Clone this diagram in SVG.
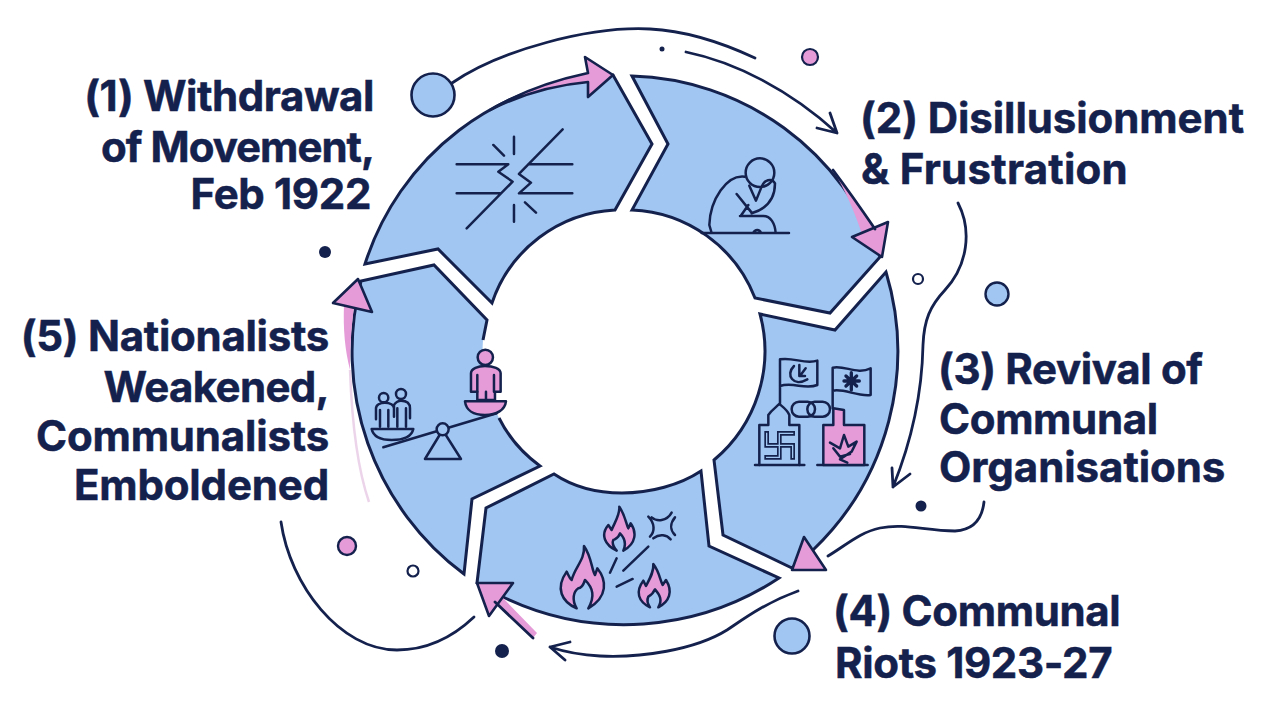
<svg xmlns="http://www.w3.org/2000/svg" width="1278" height="726" viewBox="0 0 1278 726">
<style>
.seg{fill:#a0c6f1;stroke:#14214d;stroke-width:3;stroke-linejoin:miter}
.ln{fill:none;stroke:#14214d;stroke-width:2.8;stroke-linecap:round;stroke-linejoin:round}
.pk{fill:#e49bd7;stroke:#14214d;stroke-width:2.6;stroke-linejoin:round}
.pf{fill:#e49bd7;stroke:none}
.ic{fill:none;stroke:#14214d;stroke-width:7.5;stroke-linecap:round;stroke-linejoin:round}
.icp{fill:#e49bd7;stroke:#14214d;stroke-width:7.5;stroke-linejoin:round;stroke-linecap:round}
.ici{fill:#a0c6f1;stroke:#14214d;stroke-width:7.5;stroke-linejoin:round;stroke-linecap:round}
.t{font-family:Inter,"Liberation Sans",sans-serif;font-weight:700;font-size:42px;letter-spacing:-.35px;fill:#14214d;stroke:#14214d;stroke-width:.5}
.e{text-anchor:end}
.dot{fill:#14214d}
</style>
<rect width="1278" height="726" fill="#ffffff"/>
<g id="connectors">
<path class="ln" d="M452 83C500 50 590 26 650 29C690 31 725 44 755 58"/>
<path class="ln" d="M686 52C735 62 790 90 837 133M817 128L837 133L830 113"/>
<path class="ln" d="M958 203C972 230 968 265 945 290C930 306 924 320 923 345C922 395 910 445 893 487M892 468L893 487L910 474"/>
<path class="ln" d="M984 502C982 520 972 530 955 531C925 531 905 523 880 528C860 532 845 546 828 556"/>
<path class="ln" d="M798 591C765 603 745 618 727 630C695 650 640 658 600 656C580 655 565 652 550 647M570 642L550 647L565 660"/>
<path class="ln" d="M281 522C290 585 340 650 397 650C430 650 455 635 474 617"/>
<path d="M350 370C352 425 358 470 369 502" fill="none" stroke="#ecd5ea" stroke-width="2.5"/>
</g>
<g id="node1">
<path class="seg" d="M365 264A271 271 0 0 1 613 75L652 144L615 210A137 137 0 0 0 492 303L438 249Z"/>
<path class="pk" d="M490 110C520 92 555 80 588 73L585 57L613 75L588 97L588 82C555 85 520 95 490 110Z"/>
<g transform="translate(340 40) scale(.3333)"><path class="ic" d="M350 373H505L475 395L518 425L380 565M350 460H480M697 373H565M668 268L565 373L537 402L573 428L537 460H697M522 290V342M460 315L492 347M522 495V545M555 487L588 518"/></g>
</g>
<g id="node2">
<path class="seg" d="M632 76A271 271 0 0 1 880 257L830 313L755 298A138 138 0 0 0 632 210L668 144Z"/>
<path class="pf" d="M833 170C848 190 862 210 875 229L862 234C854 210 845 190 833 170Z"/>
<path class="pk" d="M888 222L882 257L852 237Z"/>
<path class="ln" d="M833 170C848 190 862 210 875 229"/>
<g transform="translate(620 40) scale(.3333)">
<path class="ic" d="M245 579H507M375 410C320 402 270 480 268 555L275 579M350 462L395 518M362 528L385 495M360 528H430C452 528 465 550 467 579M400 578C405 568 418 566 423 578M388 437L408 482L425 440C432 420 455 412 465 430C465 470 445 505 395 520"/>
<circle class="ic" cx="420" cy="398" r="43"/></g>
</g>
<g id="node3">
<path class="seg" d="M760 314L835 330L886 272A275 275 0 0 1 813 550L792 568L723 535L714 460A142 142 0 0 0 760 314Z"/>
<path class="pk" d="M804 537L826 570H792Z"/>
<g transform="translate(700 300) scale(.3333)">
<path class="ic" d="M165 495H313M352 495H503M240 310V178C280 170 315 195 352 182V255C315 270 280 245 240 258M398 325V203C435 195 470 225 512 205V285C470 290 435 265 398 272"/>
<path class="icp" d="M400 325L432 330V375H493V495H370V375H400Z"/>
<path class="ic" d="M178 495V375H205V345C215 330 228 322 238 312C250 322 262 330 268 345V375H298V495"/>
<path d="M238 400V472M200 436H278M238 400H278M278 436V472M238 472H200M200 436V400" fill="none" stroke="#14214d" stroke-width="14" stroke-linecap="square"/>
<path d="M238 400V472M200 436H278M238 400H278M278 436V472M238 472H200M200 436V400" fill="none" stroke="#a0c6f1" stroke-width="4" stroke-linecap="square"/>
<rect class="ic" x="275" y="305" width="70" height="45" rx="22"/><rect class="ic" x="322" y="305" width="68" height="45" rx="22"/>
<path class="ic" d="M282 198C255 225 280 262 322 238M298 195V228H315M302 225L317 205"/>
<path class="ic" d="M454 218V270M432 243H478M438 228L470 258M470 228L438 258" style="stroke-width:10"/>
<path class="ic" d="M390 428L420 445L432 405L445 440L470 425L455 455L420 478L442 488M400 445L420 470L450 462"/>
</g>
</g>
<g id="node4">
<path class="seg" d="M554 474C575 488 600 493 622 493C650 493 680 485 701 471L709 546L779 578A280 280 0 0 1 503 597L477 583L486 508Z"/>
<path class="pf" d="M495 602L533 638L537 633L503 598Z"/>
<path class="pk" d="M477 583H513L489 616Z"/>
<path class="ln" d="M495 602L533 638"/>
<g transform="translate(460 460) scale(.3333)">
<path class="icp" d="M350 445C305 425 285 385 320 335C325 345 328 355 335 360C345 320 375 300 372 258C395 290 395 330 405 345L412 325C440 360 445 410 385 445C405 410 400 385 375 360C370 375 365 385 355 385C340 395 335 420 350 445Z"/>
<path class="icp" d="M470 272C435 255 420 225 445 195L455 210C465 185 480 165 478 140C495 165 498 190 505 205L512 190C530 215 530 250 490 272C500 250 495 235 480 220C475 235 470 235 460 240C455 250 460 260 470 272Z"/>
<path class="icp" d="M570 442C535 425 525 395 550 362L558 378C570 355 582 335 580 312C598 335 600 360 608 375L618 360C640 395 628 425 595 442C608 420 600 405 585 388C580 400 575 405 565 410C560 420 562 430 570 442Z"/>
<path class="ic" d="M470 295L450 338M565 260L490 332M518 357L470 380M575 172C590 185 620 185 635 158M565 170C585 190 585 215 570 230M580 235C600 220 620 225 632 238M645 172C630 190 630 210 645 225"/>
</g>
</g>
<g id="node5">
<path d="M361 281L434 265L487 320L483 340A145 145 0 0 0 499 418C510 440 525 455 540 466L472 499L464 574A278 278 0 0 1 361 281Z" fill="#a0c6f1"/>
<path d="M483 340L487 320L434 265L361 281A278 278 0 0 0 464 574L472 499L540 466C525 455 510 440 499 418" fill="none" stroke="#14214d" stroke-width="3"/>
<path class="pf" d="M350 370C345 350 343 330 344 304L354 307C351 330 350 350 350 370Z"/>
<path class="pk" d="M358 279L333 303L372 312Z"/>
<g transform="translate(270 260) scale(.3333)">
<path class="ic" d="M340 562L680 460"/>
<path class="ici" d="M465 597L518 510L573 597Z"/><circle class="ici" cx="518" cy="508" r="18"/>
<path class="ici" d="M305 507H430C425 530 400 540 365 540C335 540 310 530 305 507Z"/>
<path class="icp" d="M585 424H708C705 450 680 465 645 465C610 465 588 450 585 424Z"/>
<path class="icp" d="M622 420V395H603V340C603 325 625 318 645 318C670 318 692 325 692 340V395H675V420Z"/>
<path class="ic" d="M622 345V395M672 345V395M648 395V420"/><circle class="icp" cx="646" cy="292" r="23"/>
<circle class="ic" cx="341" cy="413" r="14"/><circle class="ic" cx="393" cy="402" r="15"/>
<path class="ic" d="M318 478V445C318 435 330 428 345 428C360 428 372 435 372 445M330 500V450M355 500V450M372 470V435C375 428 385 422 393 422C410 422 420 430 420 445V475M382 500V445M408 500V445"/>
</g>
</g>
<g id="decor">
<circle cx="433" cy="95" r="21.5" fill="#a0c6f1" stroke="#14214d" stroke-width="2.6"/>
<circle class="dot" cx="662" cy="49" r="2.5"/>
<circle cx="810" cy="57" r="8" fill="#e49bd7" stroke="#14214d" stroke-width="2.2"/>
<circle cx="918" cy="279" r="5" fill="#fff" stroke="#14214d" stroke-width="2.2"/>
<circle cx="997" cy="294" r="11.5" fill="#a0c6f1" stroke="#14214d" stroke-width="2.4"/>
<circle class="dot" cx="921" cy="506" r="5.5"/>
<circle cx="792" cy="636" r="17.5" fill="#a0c6f1" stroke="#14214d" stroke-width="2.6"/>
<circle class="dot" cx="502" cy="651" r="7"/>
<circle cx="347" cy="546" r="9" fill="#e49bd7" stroke="#14214d" stroke-width="2.4"/>
<circle cx="413" cy="571" r="5.5" fill="#fff" stroke="#14214d" stroke-width="2.2"/>
<circle class="dot" cx="325" cy="252" r="6"/>
</g>
<g id="labels">
<text class="t e" x="374" y="111" style="letter-spacing:-.43px">(1) Withdrawal</text>
<text class="t e" x="374" y="162" style="letter-spacing:-1px">of Movement,</text>
<text class="t e" x="371" y="209">Feb 1922</text>
<text class="t" x="860" y="133" style="letter-spacing:-.07px">(2) Disillusionment</text>
<text class="t" x="861" y="184" style="letter-spacing:.25px">&amp; Frustration</text>
<text class="t" x="938" y="384">(3) Revival of</text>
<text class="t" x="939" y="434">Communal</text>
<text class="t" x="939" y="482" style="letter-spacing:-.05px">Organisations</text>
<text class="t" x="833" y="626">(4) Communal</text>
<text class="t" x="835" y="678">Riots 1923-27</text>
<text class="t e" x="329" y="351" style="letter-spacing:-.28px">(5) Nationalists</text>
<text class="t e" x="329" y="402" style="letter-spacing:-.65px">Weakened,</text>
<text class="t e" x="329" y="451" style="letter-spacing:-.18px">Communalists</text>
<text class="t e" x="329" y="500" style="letter-spacing:-.15px">Emboldened</text>
</g>
</svg>
